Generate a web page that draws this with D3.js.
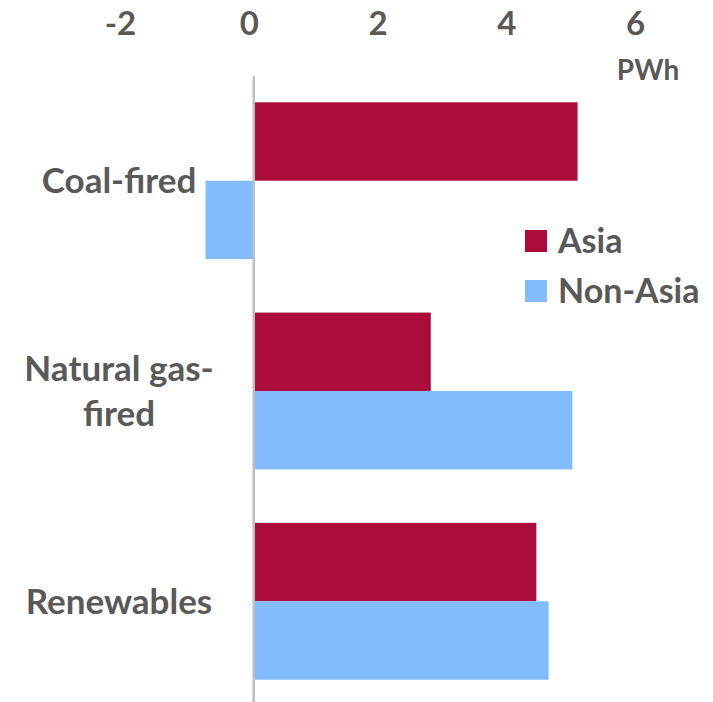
<!DOCTYPE html>
<html>
<head>
<meta charset="utf-8">
<script src="https://cdn.jsdelivr.net/npm/d3@7"></script>
<style>
  html, body { margin: 0; padding: 0; background: #fff; }
  svg { display: block; }
  text { font-family: Lato, "Open Sans", sans-serif; font-weight: 700; fill: #595959; }
</style>
</head>
<body>
<svg id="chart" width="713" height="702"></svg>
<script>
// Change in electricity generation by source, PWh
const categories = ["Coal-fired", "Natural gas-fired", "Renewables"];
const categoryLines = [["Coal-fired"], ["Natural gas-", "fired"], ["Renewables"]];
const seriesNames = ["Asia", "Non-Asia"];
const asiaValues = [5.03, 2.75, 4.39];
const nonAsiaValues = [-0.75, 4.95, 4.58];
const tickValues = [-2, 0, 2, 4, 6];
const unitLabel = "PWh";
const colors = ["#AC0C3B", "#82BBFE"];

const svg = d3.select("#chart");

const x = d3.scaleLinear().domain([-2, 6]).range([125, 640]);
const y = d3.scaleBand().domain(categories).range([76, 706])
  .paddingInner(0.254).paddingOuter(0.125);
const ySub = d3.scaleBand().domain(seriesNames).range([0, y.bandwidth()]);

const rows = categories.map((c, i) => ({
  category: c,
  values: [
    { series: "Asia", value: asiaValues[i] },
    { series: "Non-Asia", value: nonAsiaValues[i] }
  ]
}));
const color = d3.scaleOrdinal().domain(seriesNames).range(colors);

// bars
const groups = svg.append("g").selectAll("g").data(rows).join("g")
  .attr("transform", d => `translate(0,${y(d.category)})`);
groups.selectAll("rect").data(d => d.values).join("rect")
  .attr("x", d => x(Math.min(0, d.value)))
  .attr("width", d => Math.abs(x(d.value) - x(0)))
  .attr("y", d => ySub(d.series))
  .attr("height", ySub.bandwidth())
  .attr("fill", d => color(d.series));

// zero baseline
svg.append("line")
  .attr("x1", x(0)).attr("x2", x(0))
  .attr("y1", 76).attr("y2", 702)
  .attr("stroke", "#BFBFBF").attr("stroke-width", 2.5);

// top value axis
const axis = svg.append("g").attr("transform", "translate(0,35)")
  .call(d3.axisTop(x).tickValues(tickValues).tickSize(0).tickFormat(d => String(d)));
axis.select(".domain").remove();
axis.selectAll("text")
  .attr("dx", -5).attr("y", 0).attr("dy", 0)
  .style("font-size", "33px")
  .style("font-family", "Lato, 'Open Sans', sans-serif")
  .style("font-weight", 700)
  .attr("fill", "#595959");

svg.append("text").attr("x", 648).attr("y", 80)
  .attr("text-anchor", "middle").style("font-size", "28px").text(unitLabel);

// category labels
const labels = svg.append("g").selectAll("text").data(categories).join("text")
  .attr("text-anchor", "middle")
  .style("font-size", "35px");
labels.each(function(c, i) {
  const lines = categoryLines[i];
  const cy = y(c) + y.bandwidth() / 2;
  const lh = 45;
  const start = cy - (lines.length - 1) * lh / 2;
  d3.select(this).selectAll("tspan").data(lines).join("tspan")
    .attr("x", 119)
    .attr("y", (d, j) => start + j * lh)
    .attr("dy", "0.35em")
    .text(d => d);
});

// legend
const legend = svg.append("g").selectAll("g").data(seriesNames).join("g")
  .attr("transform", (d, i) => `translate(525,${230 + i * 50})`);
legend.append("rect").attr("width", 22).attr("height", 22).attr("fill", d => color(d));
legend.append("text").attr("x", 33).attr("y", 11).attr("dy", "0.35em")
  .style("font-size", "34px").text(d => d);
</script>
</body>
</html>
